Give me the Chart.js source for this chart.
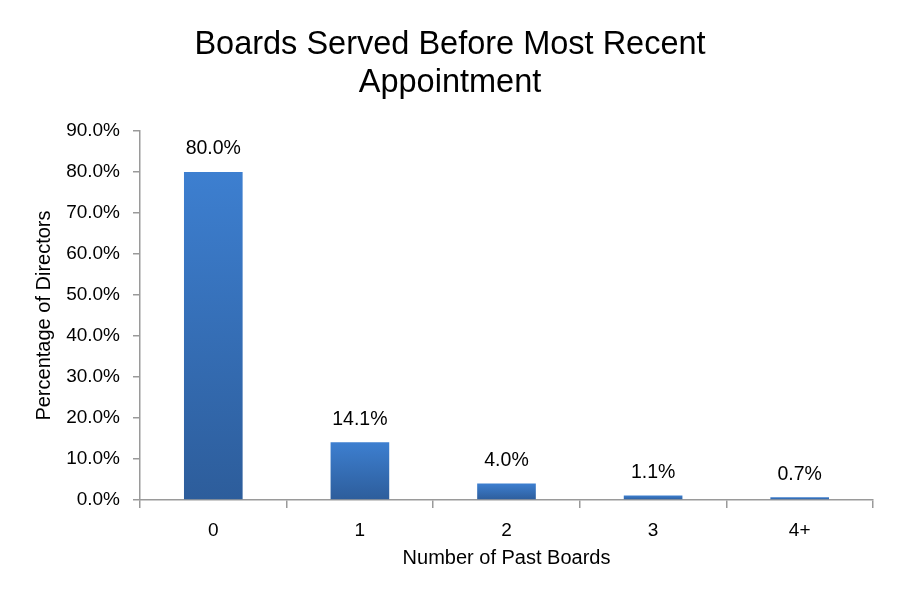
<!DOCTYPE html>
<html><head><meta charset="utf-8">
<script src="https://cdn.jsdelivr.net/npm/chart.js@4.4.0/dist/chart.umd.min.js"></script>
<style>html,body{margin:0;padding:0;background:#fff}#wrap{width:900px;height:600px}</style>
</head><body><div id="wrap"><canvas id="c" width="900" height="600"></canvas></div>
<script>
const categories = ["0", "1", "2", "3", "4+"];
const percentages = [80.0, 14.1, 4.0, 1.1, 0.7];
const yTicks = [0, 10, 20, 30, 40, 50, 60, 70, 80, 90];
const titleLines = ["Boards Served Before Most Recent", "Appointment"];

const FONT = "'Liberation Sans', Arial, sans-serif";

function barGradient(ctx) {
  const chart = ctx.chart;
  const y = chart.scales && chart.scales.y;
  if (!y || ctx.dataIndex === undefined) return '#3a74c4';
  const top = y.getPixelForValue(ctx.raw);
  const base = y.getPixelForValue(0);
  if (!isFinite(top) || !isFinite(base) || base - top < 1) return '#3a74c4';
  const g = chart.ctx.createLinearGradient(0, top, 0, base);
  g.addColorStop(0, '#3d7fd0');
  g.addColorStop(1, '#2d5d9b');
  return g;
}

const labelPlugin = {
  id: 'barLabels',
  afterDatasetsDraw(chart) {
    const c = chart.ctx;
    const meta = chart.getDatasetMeta(0);
    c.save();
    c.font = "19.5px " + FONT;
    c.fillStyle = '#000';
    c.textAlign = 'center';
    c.textBaseline = 'middle';
    meta.data.forEach((bar, i) => {
      c.fillText(percentages[i].toFixed(1) + '%', bar.x, bar.y - 23);
    });
    c.restore();
  }
};

new Chart(document.getElementById('c'), {
  type: 'bar',
  data: {
    labels: categories,
    datasets: [{
      data: percentages,
      backgroundColor: barGradient,
      borderWidth: 0,
      categoryPercentage: 0.4,
      barPercentage: 1.0
    }]
  },
  plugins: [labelPlugin],
  options: {
    responsive: false,
    animation: false,
    devicePixelRatio: 1,
    layout: { padding: { left: 27, right: 27, top: 0, bottom: 30 } },
    plugins: {
      legend: { display: false },
      tooltip: { enabled: false },
      title: {
        display: true,
        text: titleLines,
        color: '#000',
        font: { family: FONT, size: 32.5, weight: 'normal', lineHeight: 1.14 },
        padding: { top: 27, bottom: 30 }
      }
    },
    scales: {
      x: {
        offset: true,
        afterFit(s) { s.height = 70; },
        grid: { offset: true, drawOnChartArea: false, tickLength: 8, color: '#9a9a9a', lineWidth: 1.5 },
        border: { color: '#9a9a9a', width: 1.5 },
        ticks: { color: '#000', font: { family: FONT, size: 19 }, padding: 11 },
        title: { display: true, text: 'Number of Past Boards', color: '#000', font: { family: FONT, size: 20 }, padding: { top: 4, bottom: 0 } }
      },
      y: {
        min: 0, max: 90,
        afterFit(s) { s.width = 113; },
        afterBuildTicks(s) { s.ticks = yTicks.map(v => ({ value: v })); },
        grid: { drawOnChartArea: false, tickLength: 7, color: '#9a9a9a', lineWidth: 1.5 },
        border: { color: '#9a9a9a', width: 1.5 },
        ticks: { color: '#000', font: { family: FONT, size: 19 }, padding: 13, callback: v => v.toFixed(1) + '%' },
        title: { display: true, text: 'Percentage of Directors', color: '#000', font: { family: FONT, size: 20 }, padding: { top: 5, bottom: 0 } }
      }
    }
  }
});
</script></body></html>
